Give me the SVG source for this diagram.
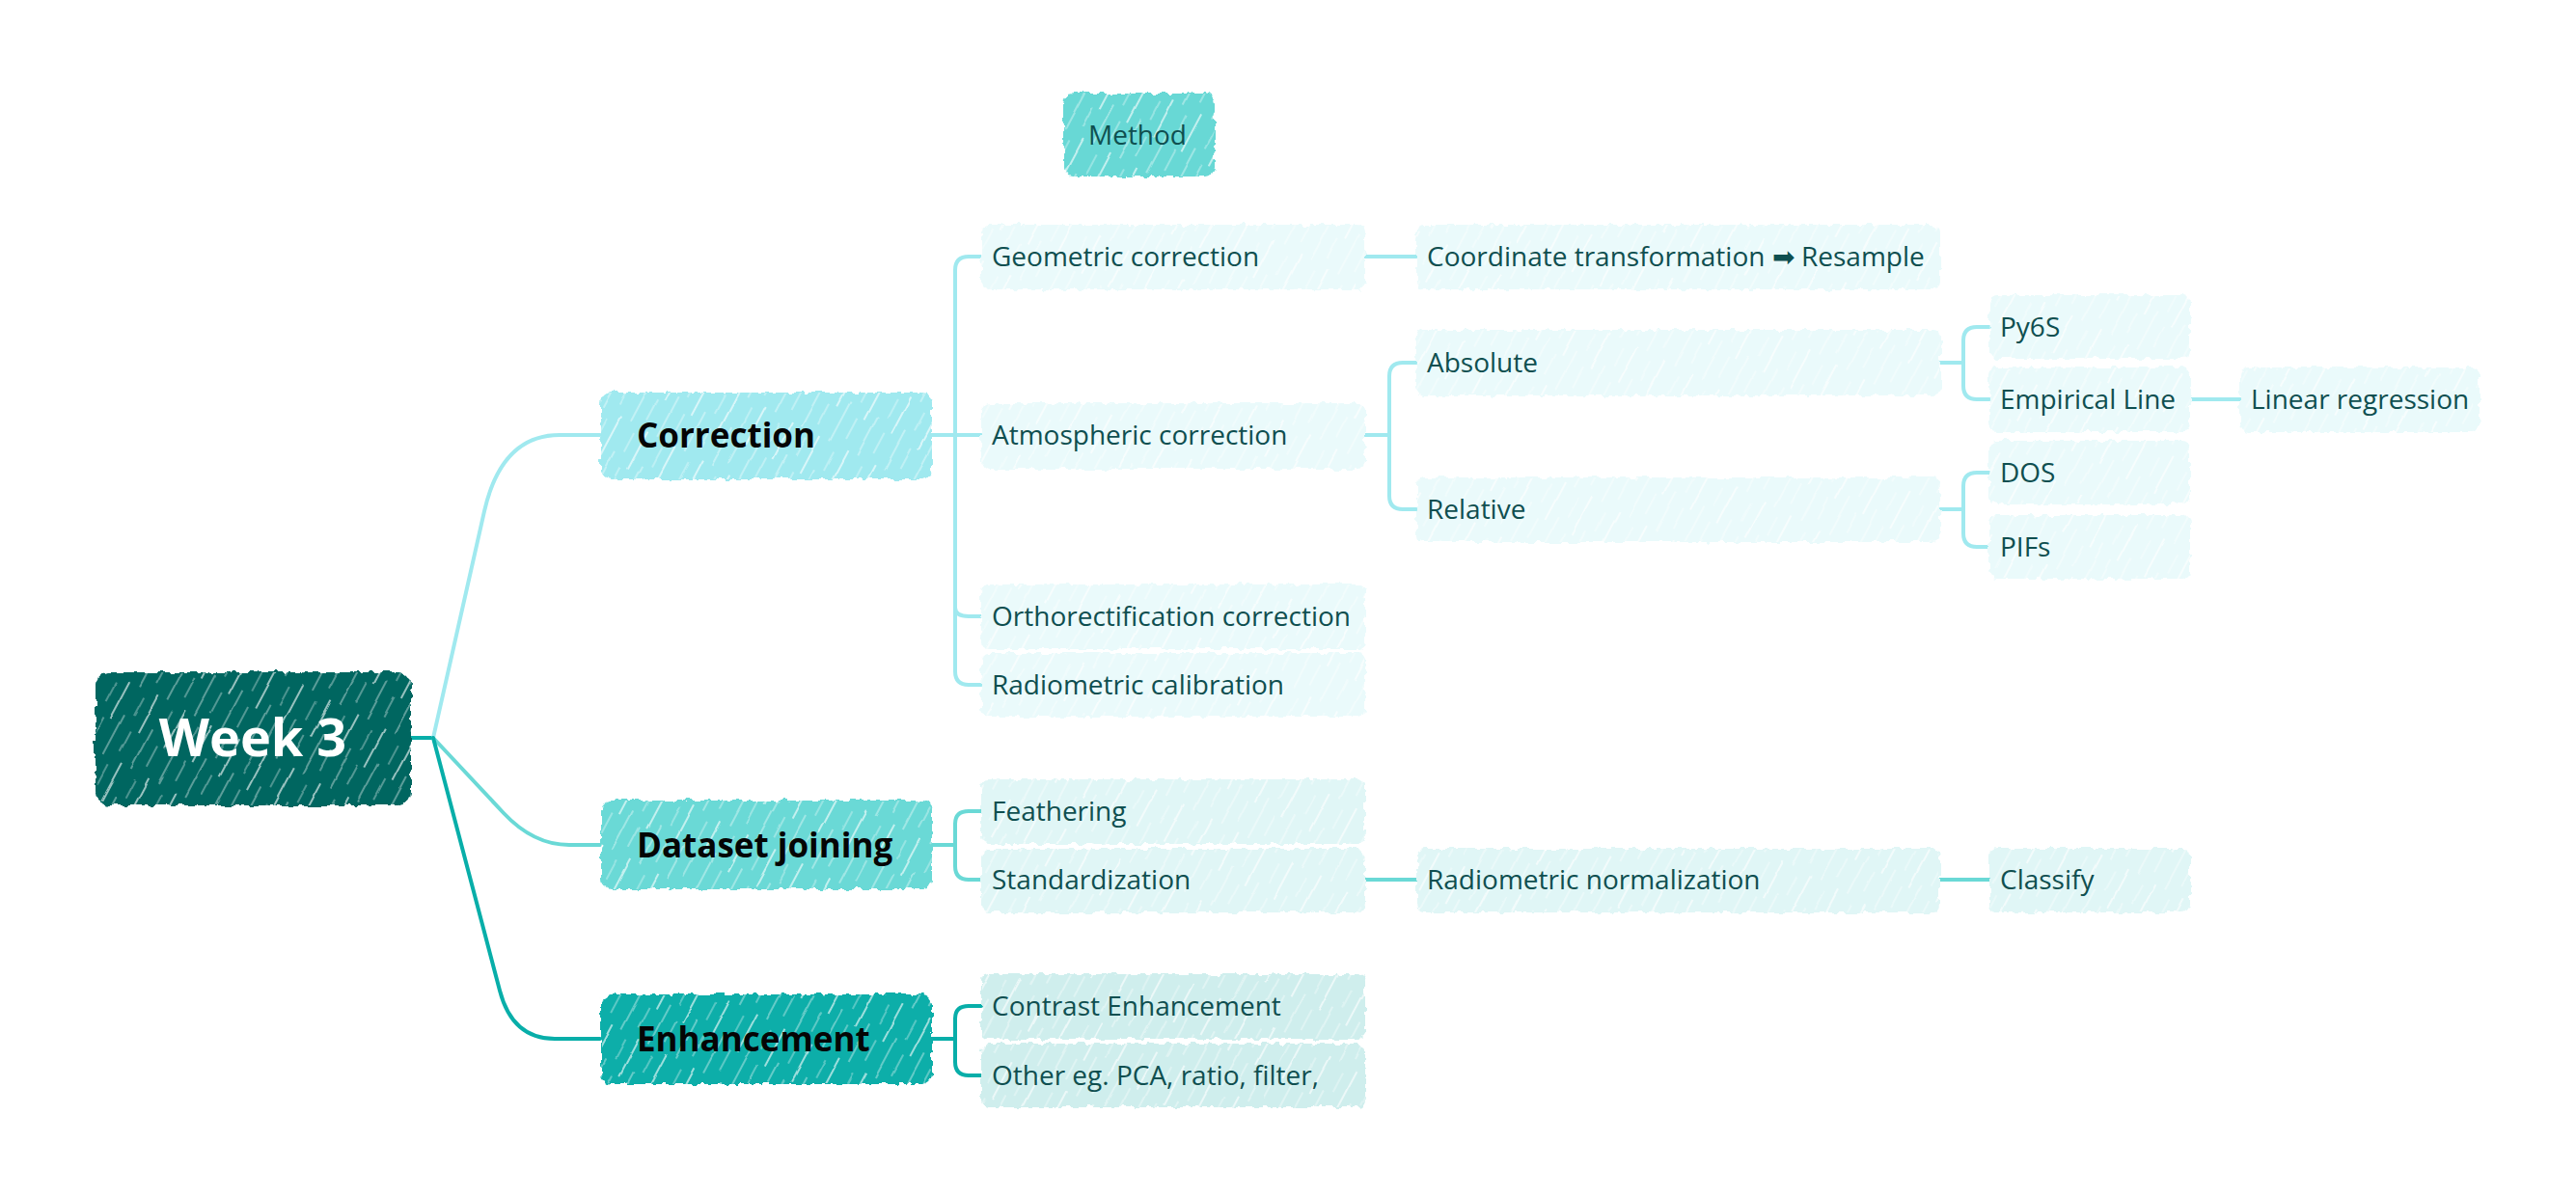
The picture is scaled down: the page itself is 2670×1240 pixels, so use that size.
<svg xmlns="http://www.w3.org/2000/svg" width="2670" height="1240" viewBox="0 0 2670 1240">
<defs>
<style>
.t{font-family:"Open Sans","Liberation Sans",sans-serif;font-size:28px;fill:#0f4f50}
.b{font-family:"Open Sans","Liberation Sans",sans-serif;font-size:35px;font-weight:bold;fill:#050505}
.w{font-family:"Open Sans","Liberation Sans",sans-serif;font-size:54px;font-weight:bold;fill:#ffffff}
.c1{fill:none;stroke:#a0e9ef;stroke-width:4;stroke-linecap:round}
.c2{fill:none;stroke:#6ad9d6;stroke-width:4;stroke-linecap:round}
.c3{fill:none;stroke:#08aea9;stroke-width:4;stroke-linecap:round}
.hat{fill:url(#hatch);filter:url(#wob)}
.bs{filter:url(#rough)}
</style>
<filter id="rough" x="-5%" y="-15%" width="110%" height="130%">
<feTurbulence type="fractalNoise" baseFrequency="0.12" numOctaves="2" seed="3" result="n"/>
<feDisplacementMap in="SourceGraphic" in2="n" scale="8" xChannelSelector="R" yChannelSelector="G"/>
</filter>
<filter id="wob" x="-5%" y="-15%" width="110%" height="130%">
<feTurbulence type="fractalNoise" baseFrequency="0.03" numOctaves="1" seed="7" result="n"/>
<feDisplacementMap in="SourceGraphic" in2="n" scale="5" xChannelSelector="R" yChannelSelector="G"/>
</filter>
<pattern id="hatch" width="32" height="80" patternUnits="userSpaceOnUse" patternTransform="rotate(28)">
<line x1="3" y1="0" x2="3" y2="44" stroke="#fff" stroke-width="1.6" opacity=".75"/>
<line x1="14" y1="34" x2="14" y2="80" stroke="#fff" stroke-width="1.2" opacity=".6"/>
<line x1="23" y1="8" x2="23" y2="30" stroke="#fff" stroke-width="1" opacity=".6"/>
<line x1="28" y1="46" x2="28" y2="70" stroke="#fff" stroke-width="1.3" opacity=".5"/>
</pattern>
</defs>
<rect width="2670" height="1240" fill="#ffffff"/>

<g id="connectors">
<path class="c3" d="M426,765 H449"/>
<path class="c1" d="M449,765 L502,530 Q520,451 580,451 L622,451"/>
<path class="c2" d="M449,765 L522,843 Q553,876 590,876 L622,876"/>
<path class="c3" d="M449,765 L518,1027 Q531,1077 575,1077 L622,1077"/>
<path class="c1" d="M966,451 H1017"/>
<path class="c1" d="M990,451 V280 Q990,266 1004,266 H1017"/>
<path class="c1" d="M990,451 V696 Q990,710 1004,710 H1017"/>
<path class="c1" d="M990,630 Q990,639 1004,639 H1017"/>
<path class="c1" d="M1415,266 H1468"/>
<path class="c1" d="M1415,451 H1440"/>
<path class="c1" d="M1440,451 V390 Q1440,376 1454,376 H1468"/>
<path class="c1" d="M1440,451 V514 Q1440,528 1454,528 H1468"/>
<path class="c1" d="M2011,376 H2035"/>
<path class="c1" d="M2035,376 V353 Q2035,339 2049,339 H2062"/>
<path class="c1" d="M2035,376 V400 Q2035,414 2049,414 H2062"/>
<path class="c1" d="M2270,414 H2322"/>
<path class="c1" d="M2011,528 H2035"/>
<path class="c1" d="M2035,528 V504 Q2035,490 2049,490 H2062"/>
<path class="c1" d="M2035,528 V553 Q2035,567 2049,567 H2062"/>
<path class="c2" d="M966,876 H990"/>
<path class="c2" d="M990,876 V854 Q990,841 1004,841 H1017"/>
<path class="c2" d="M990,876 V898 Q990,912 1004,912 H1017"/>
<path class="c2" d="M1415,912 H1469"/>
<path class="c2" d="M2010,912 H2062"/>
<path class="c3" d="M966,1077 H990"/>
<path class="c3" d="M990,1077 V1056 Q990,1043 1004,1043 H1017"/>
<path class="c3" d="M990,1077 V1101 Q990,1115 1004,1115 H1017"/>
</g>

<g id="n-method"><rect class="bs" x="1102" y="97" width="157" height="86" rx="10" fill="#68d8d5"/><rect class="hat" x="1102" y="97" width="157" height="86" rx="10"/>
<text class="t" x="1179" y="150" text-anchor="middle">Method</text></g>

<g id="n-week3"><rect class="bs" x="99" y="697" width="327" height="138" rx="14" fill="#066661"/><rect class="hat" x="99" y="697" width="327" height="138" rx="14"/>
<text class="w" x="262" y="784" text-anchor="middle">Week 3</text></g>

<g id="n-correction"><rect class="bs" x="623" y="407" width="343" height="90" rx="10" fill="#a0e9ef"/><rect class="hat" x="623" y="407" width="343" height="90" rx="10"/>
<text class="b" x="660" y="464">Correction</text></g>

<g id="n-dataset"><rect class="bs" x="623" y="830" width="343" height="92" rx="10" fill="#6ad9d6"/><rect class="hat" x="623" y="830" width="343" height="92" rx="10"/>
<text class="b" x="660" y="889">Dataset joining</text></g>

<g id="n-enhancement"><rect class="bs" x="623" y="1031" width="343" height="93" rx="10" fill="#08aea9"/><rect class="hat" x="623" y="1031" width="343" height="93" rx="10"/>
<text class="b" x="660" y="1090">Enhancement</text></g>

<g id="n-geometric"><rect class="bs" x="1017" y="233" width="398" height="67" rx="8" fill="#eafafb"/><rect class="hat" x="1017" y="233" width="398" height="67" rx="8"/>
<text class="t" x="1028" y="276">Geometric correction</text></g>

<g id="n-atmospheric"><rect class="bs" x="1017" y="418" width="398" height="68" rx="8" fill="#eafafb"/><rect class="hat" x="1017" y="418" width="398" height="68" rx="8"/>
<text class="t" x="1028" y="461">Atmospheric correction</text></g>

<g id="n-ortho"><rect class="bs" x="1017" y="606" width="398" height="67" rx="8" fill="#eafafb"/><rect class="hat" x="1017" y="606" width="398" height="67" rx="8"/>
<text class="t" x="1028" y="649">Orthorectification correction</text></g>

<g id="n-radcal"><rect class="bs" x="1017" y="677" width="398" height="66" rx="8" fill="#eafafb"/><rect class="hat" x="1017" y="677" width="398" height="66" rx="8"/>
<text class="t" x="1028" y="720">Radiometric calibration</text></g>

<g id="n-coord"><rect class="bs" x="1468" y="233" width="543" height="67" rx="8" fill="#eafafb"/><rect class="hat" x="1468" y="233" width="543" height="67" rx="8"/>
<text class="t" x="1479" y="276">Coordinate transformation ➡ Resample</text></g>

<g id="n-absolute"><rect class="bs" x="1468" y="342" width="543" height="68" rx="8" fill="#eafafb"/><rect class="hat" x="1468" y="342" width="543" height="68" rx="8"/>
<text class="t" x="1479" y="386">Absolute</text></g>

<g id="n-relative"><rect class="bs" x="1468" y="495" width="543" height="67" rx="8" fill="#eafafb"/><rect class="hat" x="1468" y="495" width="543" height="67" rx="8"/>
<text class="t" x="1479" y="538">Relative</text></g>

<g id="n-py6s"><rect class="bs" x="2062" y="306" width="208" height="66" rx="8" fill="#eafafb"/><rect class="hat" x="2062" y="306" width="208" height="66" rx="8"/>
<text class="t" x="2073" y="349">Py6S</text></g>

<g id="n-empirical"><rect class="bs" x="2062" y="381" width="208" height="67" rx="8" fill="#eafafb"/><rect class="hat" x="2062" y="381" width="208" height="67" rx="8"/>
<text class="t" x="2073" y="424">Empirical Line</text></g>

<g id="n-linreg"><rect class="bs" x="2322" y="381" width="248" height="67" rx="8" fill="#eafafb"/><rect class="hat" x="2322" y="381" width="248" height="67" rx="8"/>
<text class="t" x="2333" y="424">Linear regression</text></g>

<g id="n-dos"><rect class="bs" x="2062" y="457" width="208" height="66" rx="8" fill="#eafafb"/><rect class="hat" x="2062" y="457" width="208" height="66" rx="8"/>
<text class="t" x="2073" y="500">DOS</text></g>

<g id="n-pifs"><rect class="bs" x="2062" y="534" width="208" height="66" rx="8" fill="#eafafb"/><rect class="hat" x="2062" y="534" width="208" height="66" rx="8"/>
<text class="t" x="2073" y="577">PIFs</text></g>

<g id="n-feathering"><rect class="bs" x="1017" y="808" width="398" height="67" rx="8" fill="#e0f6f6"/><rect class="hat" x="1017" y="808" width="398" height="67" rx="8"/>
<text class="t" x="1028" y="851">Feathering</text></g>

<g id="n-standard"><rect class="bs" x="1017" y="880" width="398" height="66" rx="8" fill="#e0f6f6"/><rect class="hat" x="1017" y="880" width="398" height="66" rx="8"/>
<text class="t" x="1028" y="922">Standardization</text></g>

<g id="n-radnorm"><rect class="bs" x="1469" y="880" width="541" height="66" rx="8" fill="#e0f6f6"/><rect class="hat" x="1469" y="880" width="541" height="66" rx="8"/>
<text class="t" x="1479" y="922">Radiometric normalization</text></g>

<g id="n-classify"><rect class="bs" x="2062" y="880" width="208" height="66" rx="8" fill="#e0f6f6"/><rect class="hat" x="2062" y="880" width="208" height="66" rx="8"/>
<text class="t" x="2073" y="922">Classify</text></g>

<g id="n-contrast"><rect class="bs" x="1017" y="1010" width="398" height="67" rx="8" fill="#cfeeed"/><rect class="hat" x="1017" y="1010" width="398" height="67" rx="8"/>
<text class="t" x="1028" y="1053">Contrast Enhancement</text></g>

<g id="n-other"><rect class="bs" x="1017" y="1082" width="398" height="66" rx="8" fill="#cfeeed"/><rect class="hat" x="1017" y="1082" width="398" height="66" rx="8"/>
<text class="t" x="1028" y="1125">Other eg. PCA, ratio, filter,</text></g>
</svg>
